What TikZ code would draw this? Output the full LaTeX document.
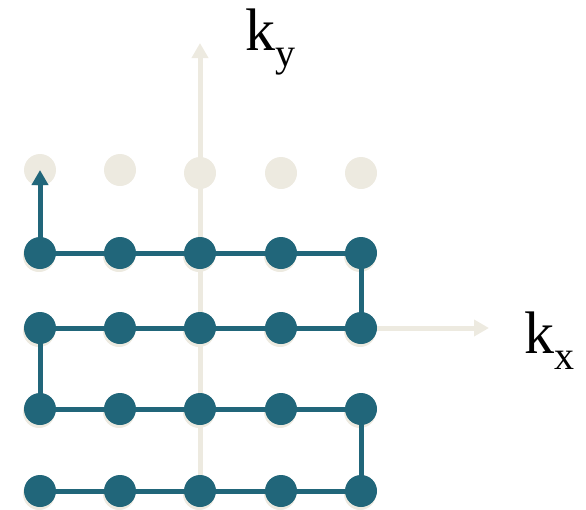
\documentclass[tikz,border=0pt]{standalone}
\usepackage{fontspec}
\setmainfont{Liberation Serif}
\usetikzlibrary{arrows.meta}
\definecolor{teal1}{RGB}{33,102,122}
\definecolor{beige1}{RGB}{237,234,224}
\tikzset{
  tdot/.style={circle,fill=teal1,minimum size=32pt,inner sep=0pt},
  ldot/.style={circle,fill=beige1,minimum size=32pt,inner sep=0pt},
  tline/.style={draw=teal1,line width=5pt},
  axisline/.style={draw=beige1,line width=5pt,-{Triangle[length=15pt,width=16pt]}},
  lbl/.style={inner sep=0pt,font=\fontsize{60}{60}\selectfont}
}
\begin{document}
\begin{tikzpicture}[x=1pt,y=-1pt]
\useasboundingbox (0,0) rectangle (586,509);
% grid centres
\foreach \n/\yy in {b/491,c/409,d/328,e/253}{
  \foreach \i/\xx in {1/40,2/120,3/200,4/281,5/361}{
    \coordinate (\n\i) at (\xx,\yy);
  }
}
\coordinate (ytip) at (200,43);
\coordinate (xtip) at (489,328);
\coordinate (stop) at (40,170);
% axes
\draw[axisline] (b3) -- (ytip);
\draw[axisline] (d5) -- (xtip);
% light dots (top row and shadows)
\node[ldot] (f1) at (40,170) {};
\node[ldot] (f2) at (120,170) {};
\node[ldot] (f3) at (200,173) {};
\node[ldot] (f4) at (281,173) {};
\node[ldot] (f5) at (361,173) {};
\foreach \n in {b,c,d,e}{
  \foreach \i in {1,...,5}{
    \node[ldot] at ([shift={(-1,3)}]\n\i) {};
  }
}
% raster path
\draw[tline] (b1) -- (b2) -- (b3) -- (b4) -- (b5) -- (c5) -- (c4) -- (c3) -- (c2) -- (c1) -- (d1) -- (d2) -- (d3) -- (d4) -- (d5) -- (e5) -- (e4) -- (e3) -- (e2) -- (e1);
\draw[tline,-{Triangle[length=15pt,width=16pt]}] (e1) -- (stop);
% teal dots
\foreach \n in {b,c,d,e}{
  \foreach \i in {1,...,5}{
    \node[tdot] (t\n\i) at (\n\i) {};
  }
}
% labels
\node[lbl,anchor=base west] (ky) at (245,50) {k\raisebox{-0.28em}{\fontsize{40}{40}\selectfont y}};
\node[lbl,anchor=base west] (kx) at (524,353) {k\raisebox{-0.28em}{\fontsize{40}{40}\selectfont x}};
\end{tikzpicture}
\end{document}
